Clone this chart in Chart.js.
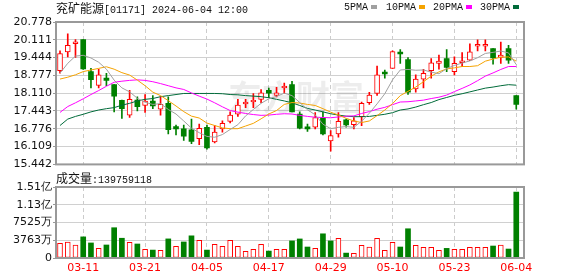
<!DOCTYPE html>
<html>
<head>
<meta charset="utf-8">
<script src="https://cdn.jsdelivr.net/npm/chart.js@4.4.1/dist/chart.umd.min.js"></script>
<style>
body{margin:0;background:#fff;width:578px;height:276px;overflow:hidden;position:relative;}
canvas{position:absolute;left:0;}
.t{position:absolute;font-family:"Liberation Mono",monospace;font-size:10px;line-height:12px;color:#111;white-space:nowrap;}
.t .c{font-family:"Noto Sans CJK SC";font-size:12px;}
.sq{display:inline-block;width:6px;height:4px;margin-left:3px;vertical-align:middle;}
</style>
</head>
<body>
<canvas id="kline" width="578" height="172" style="top:0"></canvas>
<canvas id="vol" width="578" height="104" style="top:172px"></canvas>
<div class="t" style="left:56px;top:2px"><span class="c">兖矿能源</span>[01171] 2024-06-04 12:00</div>
<div class="t" style="left:56px;top:172px"><span class="c">成交量</span>:139759118</div>
<script>
const dates = ["03-06","03-07","03-08","03-11","03-12","03-13","03-14","03-15","03-18","03-19",
  "03-20","03-21","03-22","03-25","03-26","03-27","03-28","04-02","04-03","04-05",
  "04-08","04-09","04-10","04-11","04-12","04-15","04-16","04-17","04-18","04-19",
  "04-22","04-23","04-24","04-25","04-26","04-29","04-30","05-02","05-03","05-06",
  "05-07","05-08","05-09","05-10","05-13","05-14","05-16","05-17","05-20","05-21",
  "05-22","05-23","05-24","05-27","05-28","05-29","05-30","05-31","06-03","06-04"];

const openP = [18.957,19.657,19.964,20.123,18.920,18.405,18.675,18.429,17.840,17.288,
  17.852,17.656,17.815,17.508,17.729,16.858,16.772,16.735,16.404,16.833,
  16.281,16.772,17.054,17.324,17.705,17.779,17.877,18.221,18.024,18.306,
  18.429,17.324,16.809,16.834,17.201,16.318,16.588,17.116,16.932,17.226,
  17.754,18.098,18.840,19.043,19.620,19.374,18.270,18.638,18.957,19.227,
  19.411,18.920,19.251,19.350,19.870,19.870,19.780,19.448,19.780,18.024];
const highP = [19.694,20.332,20.123,20.123,19.043,19.006,18.859,18.430,17.850,18.221,
  17.975,18.061,18.024,17.975,17.975,16.919,16.919,17.140,16.956,16.919,
  16.895,17.079,17.410,17.877,17.877,18.098,18.245,18.306,18.331,18.490,
  18.552,17.410,16.956,17.386,17.410,16.711,17.386,17.140,17.201,17.779,
  18.147,19.129,18.980,19.694,19.743,19.448,18.797,19.006,19.411,19.534,
  19.743,19.473,19.632,19.964,20.111,20.111,19.780,20.025,19.902,18.024];
const lowP = [18.859,19.473,19.448,19.000,18.306,18.306,18.392,17.410,17.165,17.202,
  17.447,17.386,17.533,17.287,16.588,16.551,16.342,16.219,16.183,16.010,
  16.244,16.649,16.993,17.238,17.570,17.570,17.754,17.938,17.975,18.098,
  17.410,16.772,16.674,16.772,16.551,15.937,16.465,16.834,16.772,16.895,
  17.693,18.024,18.675,19.043,19.227,18.061,18.147,18.306,18.675,19.006,
  18.920,18.797,19.104,19.325,19.694,19.694,19.200,19.227,19.227,17.508];
const closeP = [19.595,19.902,20.013,19.018,18.613,18.797,18.589,18.000,17.530,17.877,
  17.607,17.815,17.631,17.692,16.747,16.772,16.502,16.305,16.797,16.060,
  16.649,16.981,17.287,17.668,17.729,17.852,18.122,18.110,18.122,18.331,
  17.410,16.797,16.772,17.201,16.588,16.526,17.054,16.919,17.079,17.729,
  18.036,18.797,18.830,19.669,19.580,18.147,18.638,18.859,19.251,19.313,
  19.080,19.227,19.313,19.657,19.900,19.920,19.436,19.534,19.350,17.693];

const ma5 = [18.86,19.23,19.50,19.53,19.43,19.27,19.01,18.60,18.31,18.16,
  17.92,17.77,17.69,17.72,17.50,17.33,17.07,16.80,16.63,16.49,
  16.46,16.56,16.75,16.93,17.26,17.50,17.73,17.90,17.99,18.11,
  18.02,17.76,17.49,17.30,16.95,16.78,16.83,16.86,16.83,17.06,
  17.36,17.71,18.09,18.61,18.98,19.00,18.97,18.98,18.90,18.84,
  19.03,19.15,19.24,19.32,19.44,19.60,19.64,19.69,19.62,19.18];
const ma10 = [18.64,18.71,18.80,18.92,18.98,19.04,19.10,19.01,18.88,18.79,
  18.60,18.39,18.15,18.02,17.83,17.63,17.42,17.25,17.18,16.99,
  16.90,16.81,16.78,16.78,16.88,16.98,17.15,17.33,17.46,17.69,
  17.76,17.74,17.69,17.65,17.53,17.40,17.29,17.17,17.07,17.01,
  17.07,17.27,17.48,17.72,18.02,18.18,18.34,18.54,18.75,18.91,
  19.02,19.06,19.11,19.11,19.14,19.31,19.39,19.46,19.47,19.31];
const ma20 = [17.39,17.61,17.75,17.90,18.06,18.21,18.37,18.52,18.56,18.59,
  18.61,18.59,18.54,18.47,18.39,18.31,18.25,18.12,18.00,17.89,
  17.75,17.60,17.46,17.40,17.35,17.31,17.28,17.29,17.32,17.34,
  17.33,17.28,17.24,17.21,17.20,17.19,17.22,17.25,17.26,17.35,
  17.42,17.51,17.58,17.68,17.78,17.79,17.82,17.85,17.91,17.96,
  18.04,18.17,18.29,18.42,18.58,18.75,18.87,19.00,19.11,19.11];
const ma30 = [16.90,17.14,17.24,17.32,17.41,17.48,17.53,17.57,17.66,17.73,
  17.82,17.88,17.91,17.98,18.02,18.06,18.10,18.10,18.10,18.10,
  18.10,18.09,18.06,18.05,18.02,18.00,17.98,17.94,17.88,17.82,
  17.75,17.65,17.54,17.48,17.41,17.34,17.29,17.25,17.23,17.23,
  17.24,17.28,17.32,17.38,17.48,17.52,17.59,17.68,17.76,17.87,
  17.95,18.03,18.09,18.16,18.23,18.30,18.34,18.39,18.43,18.41];

// volume in 万
const volume = [3120,3400,2760,4480,3190,2040,2760,6420,4190,3330,
  2970,1830,1680,1610,4050,2470,3400,4700,3760,1680,
  2900,2470,3760,2470,1400,1830,2900,1470,1830,1830,
  3620,4040,2330,2040,5130,3620,4190,1040,970,2690,
  2330,4190,1610,3330,2330,6200,2690,2260,2260,1610,
  2040,1830,1830,2260,2260,2260,2540,2760,1900,13976];

const priceTicks = [15.442,16.109,16.776,17.443,18.110,18.777,19.444,20.111,20.778];
const volTicks = [0,3763,7525,11289,15052];
const volTickLabels = ["0","3763万","7525万","1.13亿","1.51亿"];
const xTickIdx = [3,11,19,27,35,43,51,59];
const maNames = ["5PMA","10PMA","20PMA","30PMA"];

const RED = "#ff0000", GREEN = "#008000";
const maColors = ["#a0a0a0","#f5a300","#ff00ff","#006b3a"];
const labelFont = { family: "DejaVu Sans", size: 11 };

// legend
const lgLeft = [344, 386, 433, 480];
maNames.forEach((n, k) => {
  const d = document.createElement("div");
  d.className = "t";
  d.style.left = lgLeft[k] + "px";
  d.style.top = "2px";
  d.innerHTML = n + '<span class="sq" style="background:' + maColors[k] + '"></span>';
  document.body.appendChild(d);
});

const frame = {
  id: "frame",
  afterDraw(chart) {
    const { ctx, chartArea: a } = chart;
    ctx.save();
    ctx.strokeStyle = "#999";
    ctx.lineWidth = 2;
    ctx.strokeRect(a.left, a.top, a.right - a.left, a.bottom - a.top);
    ctx.restore();
  }
};

const watermark = {
  id: "watermark",
  beforeDatasetsDraw(chart) {
    const { ctx } = chart;
    ctx.save();
    ctx.fillStyle = "rgba(0,0,0,0.07)";
    ctx.font = 'bold 34px "Noto Sans CJK SC"';
    ctx.textBaseline = "middle";
    ctx.fillText("东方财富", 228, 97);
    ctx.restore();
  }
};

const xScale = (showLabels, h) => ({
  type: "linear",
  min: -0.52,
  max: 60,
  offset: false,
  afterBuildTicks: s => { s.ticks = xTickIdx.map(v => ({ value: v })); },
  afterFit: s => { s.height = h; },
  grid: { color: "#cccccc", drawTicks: false, offset: false },
  border: { display: false, dash: [4, 3] },
  ticks: {
    display: showLabels,
    color: RED,
    font: labelFont,
    padding: 4,
    maxRotation: 0,
    callback: v => dates[v]
  }
});

const isUp = i => closeP[i] >= openP[i];
const volUp = i => i === 0 || closeP[i] >= closeP[i - 1];

new Chart(document.getElementById("kline"), {
  type: "bar",
  data: {
    datasets: [
      {
        type: "line", data: ma5.map((v, i) => ({ x: i, y: v })),
        borderColor: maColors[0], borderWidth: 1, pointRadius: 0, order: 0
      },
      {
        type: "line", data: ma10.map((v, i) => ({ x: i, y: v })),
        borderColor: maColors[1], borderWidth: 1, pointRadius: 0, order: 0
      },
      {
        type: "line", data: ma20.map((v, i) => ({ x: i, y: v })),
        borderColor: maColors[2], borderWidth: 1, pointRadius: 0, order: 0
      },
      {
        type: "line", data: ma30.map((v, i) => ({ x: i, y: v })),
        borderColor: maColors[3], borderWidth: 1, pointRadius: 0, order: 0
      },
      {
        // bodies
        data: dates.map((d, i) => ({ x: i, y: [openP[i], closeP[i]] })),
        backgroundColor: c => isUp(c.dataIndex) ? "#ffffff" : GREEN,
        borderColor: c => isUp(c.dataIndex) ? RED : GREEN,
        borderWidth: c => isUp(c.dataIndex) ? 1 : 0,
        borderSkipped: false,
        barThickness: 5,
        minBarLength: 2,
        grouped: false,
        order: 1
      },
      {
        // wicks
        data: dates.map((d, i) => ({ x: i, y: [lowP[i], highP[i]] })),
        backgroundColor: c => isUp(c.dataIndex) ? RED : GREEN,
        borderWidth: 0,
        barThickness: 1,
        grouped: false,
        order: 2
      }
    ]
  },
  options: {
    responsive: false,
    animation: false,
    devicePixelRatio: 1,
    layout: { padding: { top: 22, right: 54, left: 0, bottom: 0 } },
    plugins: { legend: { display: false }, tooltip: { enabled: false } },
    scales: {
      x: xScale(false, 7),
      y: {
        type: "linear",
        min: 15.442,
        max: 20.778,
        afterBuildTicks: s => { s.ticks = priceTicks.map(v => ({ value: v })); },
        afterFit: s => { s.width = 56; },
        grid: { color: "#d0d0d0", tickColor: "#999", tickLength: 3 },
        border: { display: false },
        ticks: { color: "#111", font: labelFont, padding: 1, callback: v => v.toFixed(3) }
      }
    }
  },
  plugins: [watermark, frame]
});

new Chart(document.getElementById("vol"), {
  type: "bar",
  data: {
    datasets: [{
      data: volume.map((v, i) => ({ x: i, y: v })),
      backgroundColor: c => volUp(c.dataIndex) ? "#ffffff" : GREEN,
      borderColor: c => volUp(c.dataIndex) ? RED : GREEN,
      borderWidth: c => volUp(c.dataIndex) ? 1 : 0,
      borderSkipped: false,
      barThickness: 5,
      grouped: false
    }]
  },
  options: {
    responsive: false,
    animation: false,
    devicePixelRatio: 1,
    layout: { padding: { top: 15, right: 54, left: 0, bottom: 0 } },
    plugins: { legend: { display: false }, tooltip: { enabled: false } },
    scales: {
      x: xScale(true, 18),
      y: {
        type: "linear",
        min: 0,
        max: 15052,
        afterBuildTicks: s => { s.ticks = volTicks.map(v => ({ value: v })); },
        afterFit: s => { s.width = 56; },
        grid: { color: "#d0d0d0", tickColor: "#999", tickLength: 3 },
        border: { display: false },
        ticks: {
          color: "#111", font: labelFont, padding: 1,
          callback: v => volTickLabels[volTicks.indexOf(v)]
        }
      }
    }
  },
  plugins: [frame]
});
</script>
</body>
</html>
